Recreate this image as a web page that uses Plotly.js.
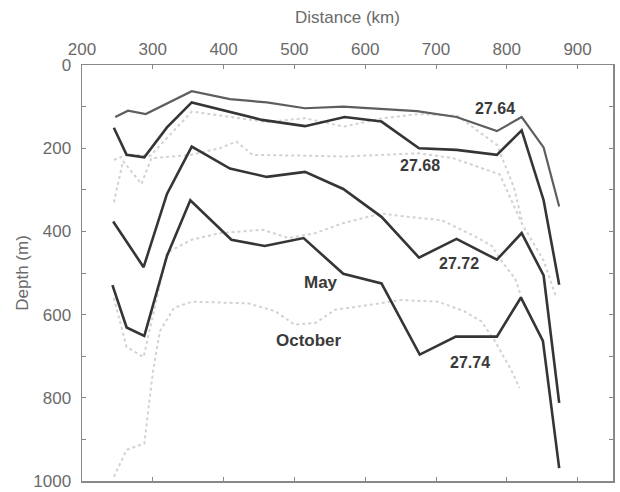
<!DOCTYPE html>
<html>
<head>
<meta charset="utf-8">
<script src="https://cdn.plot.ly/plotly-3.0.1.min.js"></script>
<style>
  html, body { margin: 0; padding: 0; background: #fff; }
  #chart { width: 620px; height: 492px; }
</style>
</head>
<body>
<div id="chart"></div>
<script>
// Isopycnal depths (m) along the section, May (solid) and October (dotted)
const may2764X = [247, 265, 290, 355, 409, 461, 515, 569, 673, 729, 786, 821, 852, 874];
const may2764Y = [125, 110, 118, 63, 82, 90, 104, 100, 111, 125, 159, 125, 198, 340];

const may2768X = [245, 263, 288, 320, 355, 454, 515, 571, 623, 676, 729, 786, 821, 852, 874];
const may2768Y = [151, 216, 222, 150, 90, 132, 147, 125, 136, 200, 204, 216, 157, 325, 528];

const may2772X = [244, 287, 320, 355, 409, 461, 515, 569, 623, 676, 729, 786, 821, 852, 874];
const may2772Y = [376, 486, 310, 196, 249, 269, 257, 298, 365, 463, 418, 468, 404, 506, 812];

const may2774X = [243, 263, 288, 320, 353, 411, 458, 513, 569, 623, 677, 728, 786, 820, 851, 874];
const may2774Y = [529, 631, 651, 459, 325, 420, 435, 416, 502, 525, 696, 653, 653, 559, 663, 969];

const oct2764X = [245, 265, 296, 355, 410, 460, 515, 570, 625, 675, 730, 786, 810, 821];
const oct2764Y = [228, 215, 219, 112, 125, 137, 128, 148, 128, 118, 122, 192, 294, 372];

const oct2768X = [245, 258, 284, 298, 353, 395, 418, 441, 515, 570, 625, 675, 724, 790, 821, 852, 870];
const oct2768Y = [330, 231, 286, 224, 216, 200, 184, 216, 218, 220, 216, 212, 224, 263, 380, 470, 560];

const oct2772X = [245, 263, 287, 320, 355, 395, 455, 492, 530, 569, 623, 660, 708, 755, 779, 794, 812, 821];
const oct2772Y = [560, 678, 702, 451, 420, 404, 396, 416, 404, 380, 357, 365, 373, 412, 435, 475, 514, 560];

const oct2774X = [245, 263, 288, 300, 310, 330, 355, 435, 473, 500, 530, 558, 593, 651, 703, 740, 764, 783, 806, 818];
const oct2774Y = [990, 925, 910, 740, 640, 584, 569, 573, 592, 624, 620, 588, 580, 565, 569, 592, 616, 663, 733, 776];

const xTickVals = [200, 300, 400, 500, 600, 700, 800, 900];
const yTickVals = [0, 200, 400, 600, 800, 1000];

// Contour labels and season labels
const labelText = ['27.64', '27.68', '27.72', '27.74', 'May', 'October'];
const labelX = [784, 677, 732, 748, 538, 521];
const labelY = [104, 241, 478, 714, 522, 663];
const labelSize = [16, 16, 16, 16, 17, 17];

const fontFamily = 'Liberation Sans, Arial, Helvetica, sans-serif';
const darkLine = {color: '#353535', width: 2.6};
const greyLine = {color: '#5e5e5e', width: 2.2};
const dotLine = {color: '#d2d2d2', width: 2, dash: 'dot'};

function series(x, y, line) {
  return {x: x, y: y, type: 'scatter', mode: 'lines', line: line, hoverinfo: 'skip', showlegend: false};
}

const traces = [
  series(oct2764X, oct2764Y, dotLine),
  series(oct2768X, oct2768Y, dotLine),
  series(oct2772X, oct2772Y, dotLine),
  series(oct2774X, oct2774Y, dotLine),
  series(may2764X, may2764Y, greyLine),
  series(may2768X, may2768Y, darkLine),
  series(may2772X, may2772Y, darkLine),
  series(may2774X, may2774Y, darkLine)
];

const annotations = labelText.map((t, i) => ({
  x: labelX[i], y: labelY[i], xref: 'x', yref: 'y', text: '<b>' + t + '</b>',
  showarrow: false, font: {family: fontFamily, size: labelSize[i], color: '#3a3a3a'}
}));

const axisFont = {family: fontFamily, size: 17, color: '#6a6a6a'};

const layout = {
  width: 620, height: 492,
  margin: {l: 82, r: 7, t: 65, b: 11},
  paper_bgcolor: '#ffffff', plot_bgcolor: '#ffffff',
  font: axisFont,
  xaxis: {
    side: 'top', range: [200, 950], tickvals: xTickVals,
    ticks: 'inside', ticklen: 4, tickcolor: '#888', tickwidth: 1,
    showline: true, linecolor: '#888', linewidth: 1.5, mirror: 'ticks',
    showgrid: false, zeroline: false, tickfont: axisFont, ticklabelstandoff: 2,
    ticklabeloverflow: 'allow',
    title: {text: 'Distance (km)', font: {family: fontFamily, size: 17, color: '#6a6a6a'}, standoff: 12}
  },
  yaxis: {
    range: [1000, 0], tickvals: yTickVals,
    ticks: 'inside', ticklen: 4, tickcolor: '#888', tickwidth: 1,
    minor: {dtick: 100, ticks: 'inside', ticklen: 4, tickcolor: '#888'},
    showline: true, linecolor: '#888', linewidth: 1.5, mirror: 'ticks',
    showgrid: false, zeroline: false, tickfont: axisFont, ticklabelstandoff: 6,
    ticklabeloverflow: 'allow',
    title: {text: 'Depth (m)', font: {family: fontFamily, size: 17, color: '#6a6a6a'}, standoff: 0}
  },
  annotations: annotations
};

Plotly.newPlot('chart', traces, layout, {displayModeBar: false, staticPlot: true});
</script>
</body>
</html>
